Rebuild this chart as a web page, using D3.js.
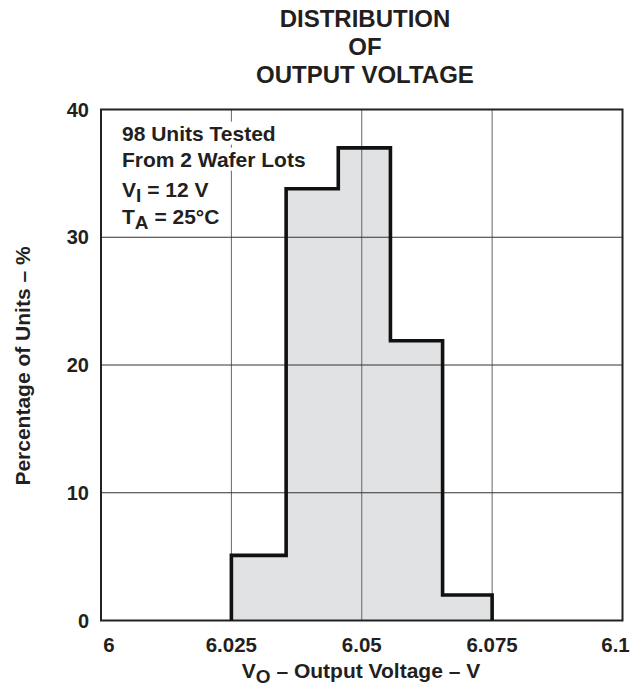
<!DOCTYPE html>
<html>
<head>
<meta charset="utf-8">
<script src="https://cdn.jsdelivr.net/npm/d3@7"></script>
<style>
  body { margin: 0; background: #fff; }
  text { font-family: "Liberation Sans", Arial, sans-serif; font-weight: bold; fill: #231f20; }
</style>
</head>
<body>
<svg id="canvas"></svg>
<script>
// histogram values
const binEdges = [6.025, 6.0355, 6.0455, 6.0555, 6.0655, 6.075];
const percentUnits = [5.1, 33.8, 37.0, 21.9, 2.0];
const xTicks = [6, 6.025, 6.05, 6.075, 6.1];
const yTicks = [0, 10, 20, 30, 40];
const titleLines = ["DISTRIBUTION", "OF", "OUTPUT VOLTAGE"];

const width = 640, height = 689;
const svg = d3.select("#canvas").attr("width", width).attr("height", height);

// plot box
const plotLeft = 101, plotRight = 622.5, plotTop = 109.5, plotBottom = 620.5;

const xScale = d3.scaleLinear().domain([6, 6.1]).range([plotLeft, plotRight]);
const yScale = d3.scaleLinear().domain([0, 40]).range([plotBottom, plotTop]);

// step outline points
const pts = [[binEdges[0], 0]];
percentUnits.forEach((v, i) => {
    pts.push([binEdges[i], v]);
    pts.push([binEdges[i + 1], v]);
});
pts.push([binEdges[binEdges.length - 1], 0]);

const line = d3.line().x(d => xScale(d[0])).y(d => yScale(d[1]));

// fill first, grid on top of it
svg.append("path")
    .attr("d", line(pts) + "Z")
    .attr("fill", "#e1e2e4")
    .attr("stroke", "none");

// grid
svg.append("g")
    .selectAll("line")
    .data(xTicks.slice(1, -1))
    .join("line")
        .attr("x1", d => xScale(d)).attr("x2", d => xScale(d))
        .attr("y1", plotTop).attr("y2", plotBottom)
        .attr("stroke", "#666").attr("stroke-width", 1);

svg.append("g")
    .selectAll("line")
    .data(yTicks.slice(1, -1))
    .join("line")
        .attr("x1", plotLeft).attr("x2", plotRight)
        .attr("y1", d => yScale(d)).attr("y2", d => yScale(d))
        .attr("stroke", "#333").attr("stroke-width", 1);

// annotation (white behind text hides the grid)
const note = svg.append("g");
const noteLines = [
    {y: 140.7, parts: [["98 Units Tested", 0]]},
    {y: 166.7, parts: [["From 2 Wafer Lots", 0]]},
    {y: 197.3, parts: [["V", 0], ["I", 5], [" = 12 V", -5]]},
    {y: 224, parts: [["T", 0], ["A", 5], [" = 25°C", -5]]}
];
noteLines.forEach(l => {
    const bg = note.append("rect").attr("fill", "#fff");
    const t = note.append("text").attr("x", 122).attr("y", l.y).attr("font-size", 21);
    l.parts.forEach((p, i) => {
        t.append("tspan").attr("dy", p[1])
            .attr("font-size", (i == 1) ? 19 : 21)
            .text(p[0]);
    });
    const b = t.node().getBBox();
    bg.attr("x", b.x - 2).attr("y", b.y).attr("width", b.width + 4).attr("height", b.height);
});

// border
svg.append("rect")
    .attr("x", plotLeft).attr("y", plotTop)
    .attr("width", plotRight - plotLeft).attr("height", plotBottom - plotTop)
    .attr("fill", "none").attr("stroke", "#222").attr("stroke-width", 2);

// histogram outline
svg.append("path")
    .attr("d", line(pts))
    .attr("fill", "none")
    .attr("stroke", "#111")
    .attr("stroke-width", 3.6)
    .attr("stroke-linejoin", "miter");

// tick labels
svg.append("g")
    .selectAll("text")
    .data(yTicks)
    .join("text")
        .attr("x", 89)
        .attr("y", d => yScale(d) + 7)
        .attr("text-anchor", "end")
        .attr("font-size", 20)
        .text(d => d);

svg.append("g")
    .selectAll("text")
    .data(xTicks)
    .join("text")
        .attr("x", (d, i) => xScale(d) + (i == 0 ? 8 : i == xTicks.length - 1 ? -7 : 0))
        .attr("y", 652)
        .attr("text-anchor", "middle")
        .attr("font-size", 20.5)
        .text(d => d);

// title
svg.append("g")
    .selectAll("text")
    .data(titleLines)
    .join("text")
        .attr("x", 365)
        .attr("y", (d, i) => 26.5 + i * 28.4)
        .attr("text-anchor", "middle")
        .attr("font-size", 24)
        .text(d => d);

// axis titles
const xt = svg.append("text")
    .attr("x", 361).attr("y", 678)
    .attr("text-anchor", "middle")
    .attr("font-size", 21);
xt.append("tspan").text("V");
xt.append("tspan").attr("dy", 5).attr("font-size", 19).text("O");
xt.append("tspan").attr("dy", -5).text(" – Output Voltage – V");

svg.append("text")
    .attr("transform", "translate(30,366) rotate(-90)")
    .attr("text-anchor", "middle")
    .attr("font-size", 21)
    .text("Percentage of Units – %");
</script>
</body>
</html>
